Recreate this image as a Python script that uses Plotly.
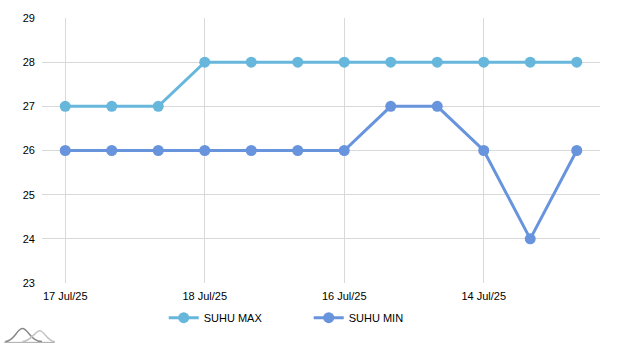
import plotly.graph_objects as go

x_pos = list(range(12))
tick_pos = [0, 3, 6, 9]
tick_labels = ["17 Jul/25", "18 Jul/25", "16 Jul/25", "14 Jul/25"]
suhu_max = [27, 27, 27, 28, 28, 28, 28, 28, 28, 28, 28, 28]
suhu_min = [26, 26, 26, 26, 26, 26, 26, 27, 27, 26, 24, 26]

fig = go.Figure()
fig.add_trace(go.Scatter(x=x_pos, y=suhu_max, name="SUHU MAX", mode="lines+markers",
                         line=dict(color="#67b7dc", width=3),
                         marker=dict(color="#67b7dc", size=11)))
fig.add_trace(go.Scatter(x=x_pos, y=suhu_min, name="SUHU MIN", mode="lines+markers",
                         line=dict(color="#6794dc", width=3),
                         marker=dict(color="#6794dc", size=11)))

fig.update_layout(
    width=620, height=348,
    margin=dict(l=42, r=20, t=16, b=65),
    paper_bgcolor="white", plot_bgcolor="white",
    font=dict(family="Liberation Sans, Arial, sans-serif", size=11, color="#000000"),
    showlegend=True,
    legend=dict(orientation="h", x=0.478, xanchor="center", y=-0.131, yanchor="middle",
                entrywidth=100, entrywidthmode="pixels", itemwidth=30,
                font=dict(size=11, color="#000000")),
    xaxis=dict(range=[-0.5, 11.5], tickmode="array", tickvals=tick_pos, ticktext=tick_labels,
               showgrid=True, gridcolor="#d9d9d9", gridwidth=1, zeroline=False,
               showline=False, ticks="", ticklabelstandoff=5),
    yaxis=dict(range=[23, 29], dtick=1, showgrid=True, gridcolor="#d9d9d9", gridwidth=1,
               zeroline=False, showline=False, ticks="", ticklabelstandoff=6),
)

# small logo-like decoration at bottom-left
fig.add_shape(type="path", xref="paper", yref="paper",
              path="M -0.066 -0.221 C -0.05 -0.221 -0.045 -0.172 -0.035 -0.172 C -0.025 -0.172 -0.02 -0.221 0.0 -0.221",
              line=dict(color="#888888", width=1.5))
fig.add_shape(type="path", xref="paper", yref="paper",
              path="M -0.035 -0.221 C -0.02 -0.221 -0.012 -0.18 -0.004 -0.18 C 0.004 -0.18 0.01 -0.221 0.023 -0.221",
              line=dict(color="#c4c4c4", width=1.5))
fig.add_shape(type="line", xref="paper", yref="paper", x0=-0.068, x1=0.023, y0=-0.224, y1=-0.224,
              line=dict(color="#aaaaaa", width=1))

fig.write_html("out.html")
